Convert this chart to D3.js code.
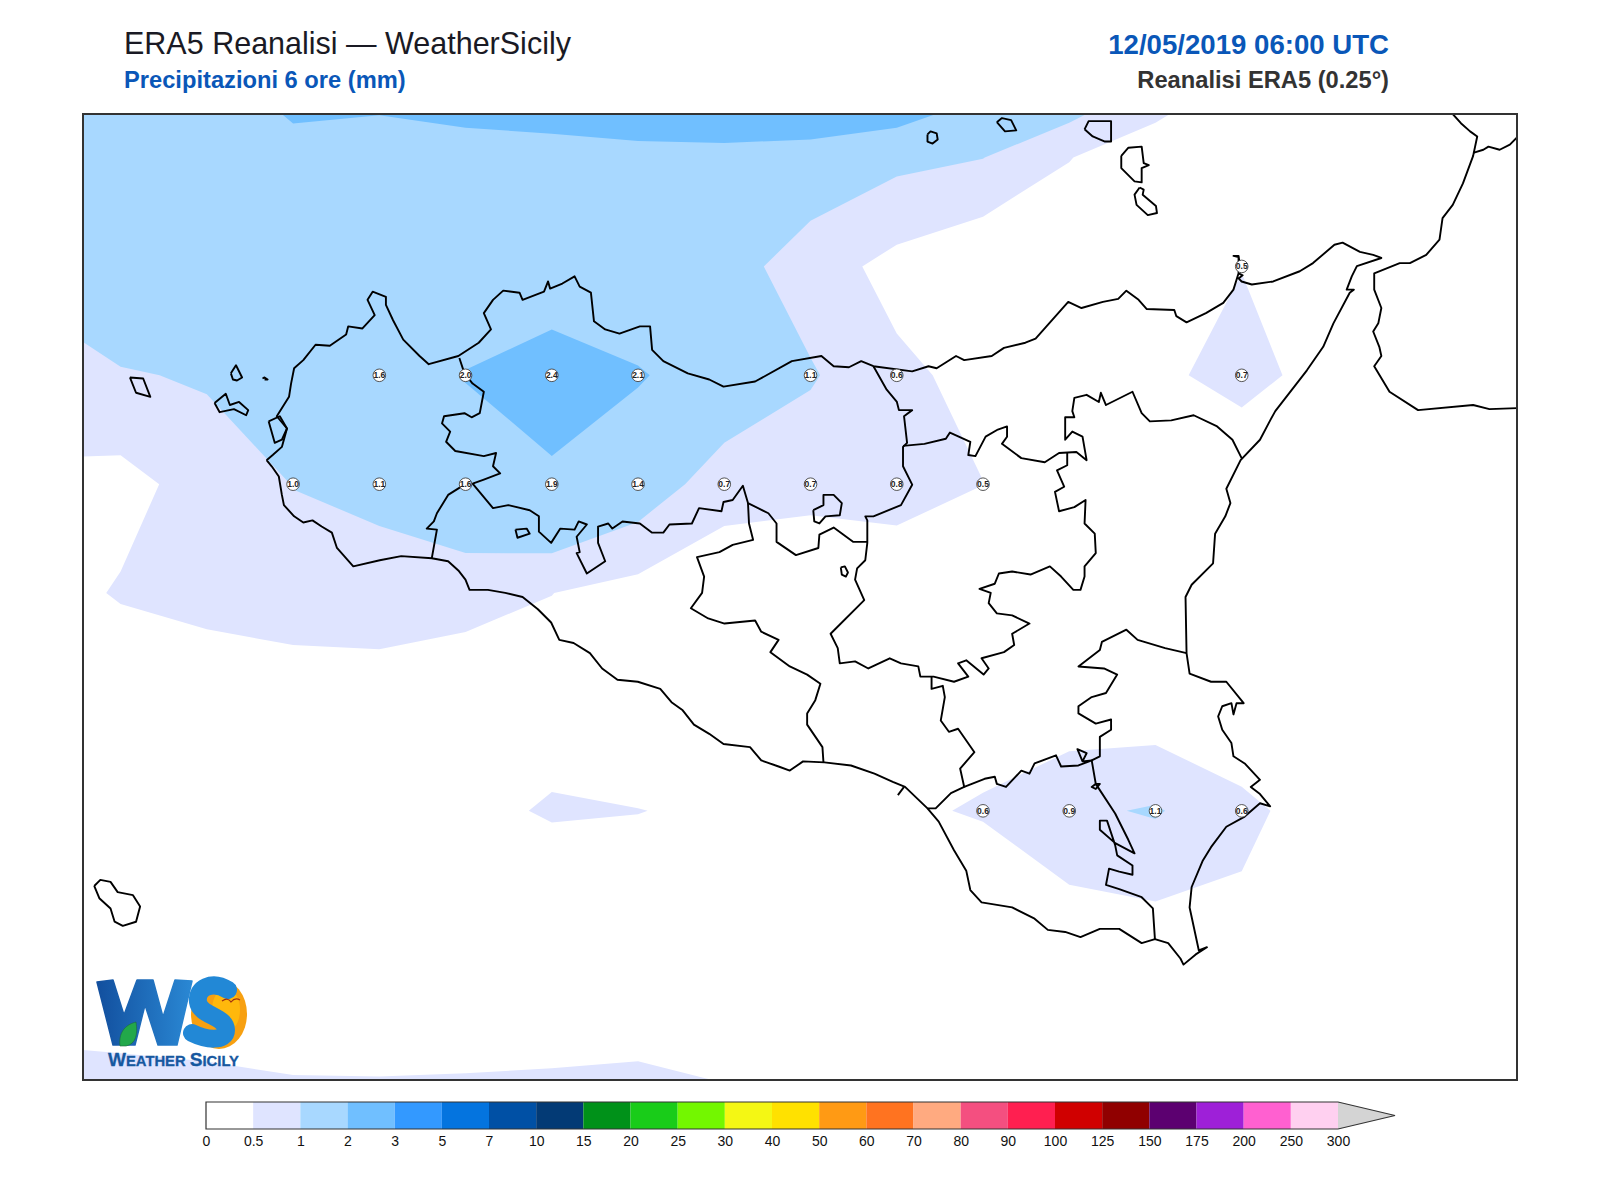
<!DOCTYPE html>
<html><head><meta charset="utf-8">
<script src="https://d3js.org/d3.v7.min.js"></script>
<style>html,body{margin:0;padding:0;background:#fff}svg{display:block}text{font-family:"Liberation Sans",Arial,sans-serif}</style>
</head><body><svg id="c" width="1600" height="1200"></svg>
<script>
// ---------- DATA ----------
const levelLabels = ["0","0.5","1","2","3","5","7","10","15","20","25","30","40","50","60","70","80","90","100","125","150","175","200","250","300"];
const levelColors = ["#ffffff","#dfe4ff","#a8d8ff","#70bfff","#3399ff","#0474df","#0050a5","#033a75","#009119","#19cc19","#73f700","#f4f714","#ffe100","#ff9a14","#ff7320","#ffaa80","#f44f80","#ff1f50","#d00000","#900000","#5c0070","#9e20d8","#ff60d0","#ffd0f0"];
// 0.25 degree precipitation field, mm
const gridLons = [12,12.25,12.5,12.75,13,13.25,13.5,13.75,14,14.25,14.5,14.75,15,15.25,15.5,15.75,16,16.25,16.5];
const gridLats = [38.75,38.5,38.25,38,37.75,37.5,37.25,37,36.75,36.5,36.25];
const p3875 = [1.9,1.9,2.01,2.88,2.63,3.06,3.07,3.66,3.94,5.2,4.28,2.81,2.02,1.35,.6,.3,.1,.1,.1];
const p3850 = [1.5,1.5,1.5,1.6,1.6,1.6,1.7,1.7,1.7,1.36,1.14,1.01,.52,.1,.1,.05,.02,.02,.02];
const p3825 = [1.02,1.6,1.4,1.4,1.4,1.45,1.45,1.2,1.22,.74,.34,.07,.05,.1,.487,.1,.02,.01,.01];
const p3800 = [.97,.948,1.063,1.3,1.6,2.03,2.4,2.08,1.49,1.05,.6,.36,.15,.375,.7,.277,.03,0,0];
const p3775 = [.35,.338,.7,1.01,1.1,1.6,1.86,1.36,.7,.68,.8,.505,.1,.1,.022,.02,0,0,0];
const p3750 = [.3,.54,.64,.8,.84,.65,.505,.32,.18,.05,.01,.02,0,0,0,0,0,0,0];
const p3725 = [.1,.14,.22,.17,.18,.23,.31,.1,.05,.02,.05,.25,.17,.14,.15,.05,0,0,0];
const p3700 = [.1,.1,.1,.15,.25,.39,.54,.51,.42,.2,.41,.55,.9,1.05,.6,.3,.05,0,0];
const p3675 = [.1,.15,.15,.15,.15,.15,.17,.2,.15,.1,.05,.05,.31,.39,.42,.05,0,0,0];
const p3650 = [.4,.4,.4,.4,.4,.4,.4,.4,.4,.3,.1,.02,.02,.02,.02,.02,0,0,0];
const p3625 = [1.02,.844,.73,.635,.627,.644,.674,.733,.6,.48,.2,.05,.05,.05,.05,.05,0,0,0];
// land stations with printed values
const stationLon = [15.5,13,13.25,13.5,13.75,14.25,14.5,15.5,12.75,13,13.25,13.5,13.75,14,14.25,14.5,14.75,14.75,15,15.25,15.5];
const stationLat = [38.25,38,38,38,38,38,38,38,37.75,37.75,37.75,37.75,37.75,37.75,37.75,37.75,37.75,37,37,37,37];
const stationVal = ["0.5","1.6","2.0","2.4","2.1","1.1","0.6","0.7","1.0","1.1","1.6","1.9","1.4","0.7","0.7","0.8","0.5","0.6","0.9","1.1","0.6"];
// outlines, traced in map easting/northing units
const coastSouth = [[261,451],[266,457],[273,467],[276,485],[278,495],[288,506],[297,512],[306,510],[315,516],[325,522],[330,537],[346,555],[372,549],[393,545],[423,547],[439,550],[449,559],[456,568],[460,578],[478,578],[495,581],[512,585],[527,597],[540,610],[548,627],[562,630],[578,640],[590,655],[605,666],[625,668],[647,675],[658,688],[669,696],[680,710],[695,719],[709,729],[735,732],[746,745],[763,751],[774,755],[787,746],[808,747],[834,750],[857,758],[875,766],[887,771],[909,792],[920,805],[935,833],[947,853],[951,872],[962,884],[992,889],[1014,900],[1027,911],[1044,913],[1059,918],[1078,910],[1097,910],[1119,924],[1132,920],[1145,924],[1157,939],[1160,945],[1172,935],[1183,928],[1175,931],[1166,889],[1168,869],[1179,843],[1187,830],[1202,810],[1220,800],[1235,787],[1245,790],[1235,778],[1226,771],[1235,764],[1220,748],[1209,741],[1207,728],[1198,715],[1194,702],[1198,692],[1207,689],[1209,700],[1212,689],[1219,689],[1202,668],[1187,668],[1166,660],[1163,640],[1162,585],[1168,573],[1189,552],[1191,523],[1201,506],[1206,493],[1202,479],[1216,451],[1235,431],[1245,412],[1250,403],[1281,363],[1297,340],[1307,317],[1323,287],[1327,284],[1320,284],[1325,271],[1330,261],[1354,253],[1346,250],[1333,247],[1316,238],[1308,240],[1287,258],[1274,266],[1248,276],[1227,279],[1217,276],[1214,273],[1218,270],[1214,268],[1215,258],[1214,251],[1209,251],[1214,252],[1214,268],[1209,284],[1199,297],[1182,307],[1163,316],[1153,310],[1151,304],[1124,303],[1116,294],[1104,285],[1096,293],[1081,296],[1060,302],[1047,296],[1015,332],[1005,336],[984,341],[972,349],[945,353],[937,349],[918,361],[910,359],[894,364],[856,359],[844,354],[832,360],[817,359],[805,349],[776,354],[740,374],[709,379],[695,372],[674,366],[650,354],[639,343],[637,320],[627,320],[607,327],[593,323],[582,315],[579,287],[568,281],[563,271],[551,278],[539,283],[537,276],[533,286],[512,294],[509,287],[493,285],[483,294],[474,307],[481,323],[469,336],[449,349],[420,357],[411,349],[395,333],[385,314],[378,299],[378,291],[365,286],[360,294],[367,309],[355,322],[341,320],[339,328],[323,339],[309,338],[297,353],[288,361],[285,376],[283,389],[271,408],[281,420],[276,438],[267,446],[261,451]];
const lagoon = [[263,413],[274,408],[281,420],[276,431],[269,434],[263,413]];
const borderTpPa = [[450,351],[455,366],[463,376],[474,384],[470,405],[462,409],[455,405],[435,408],[433,415],[441,423],[437,433],[446,442],[474,447],[486,444],[483,457],[490,464],[474,470],[463,474],[455,475],[439,485],[428,503],[425,511],[418,518],[428,519],[423,547]];
const borderPaAg = [[463,474],[483,498],[498,495],[519,500],[528,506],[528,521],[540,532],[549,518],[563,519],[567,511],[575,514],[565,526],[568,541],[565,542],[575,562],[593,550],[586,532],[586,516],[596,513],[600,518],[610,511],[627,513],[639,522],[650,522],[656,514],[678,513],[685,498],[707,501],[709,492],[718,490],[728,476],[733,493],[753,503],[761,513],[761,531],[780,544],[802,537],[803,524],[817,517],[836,531],[850,531]];
const borderAgCl = [[733,493],[734,513],[738,529],[718,534],[705,541],[683,546],[690,565],[688,581],[677,596],[694,606],[710,611],[740,608],[746,619],[763,627],[755,639],[774,653],[791,661],[804,670],[799,686],[791,699],[791,710],[806,732],[807,747]];
const borderPaMe = [[856,359],[869,382],[879,394],[881,402],[894,402],[886,408],[889,434],[885,438],[885,457],[894,475],[883,495],[856,506],[848,506],[850,510],[850,532],[848,549],[840,557],[838,568],[847,588],[814,621],[821,635],[823,650],[838,648],[851,655],[872,645],[883,650],[900,653],[902,663],[915,663],[935,668],[949,663],[939,650],[947,647],[964,661],[969,655],[962,645],[984,639],[994,632],[992,621],[1009,611],[992,603],[977,601],[969,591],[971,581],[960,577],[975,572],[979,562],[992,560],[1010,563],[1029,555],[1040,565],[1052,578],[1059,578],[1063,565],[1063,555],[1074,542],[1073,523],[1063,513],[1064,490],[1053,497],[1038,501],[1034,482],[1043,477],[1036,461],[1046,456],[1046,444]];
const borderMeCt = [[885,437],[906,435],[927,430],[931,424],[951,433],[949,446],[956,447],[966,428],[978,421],[987,418],[987,428],[982,435],[1001,449],[1024,453],[1038,444],[1055,443],[1065,451],[1061,428],[1051,423],[1044,431],[1044,409],[1053,409],[1051,403],[1053,390],[1065,387],[1077,394],[1079,385],[1084,397],[1110,384],[1119,405],[1127,413],[1148,412],[1170,407],[1193,418],[1208,431],[1217,449]];
const borderClRg = [[913,663],[913,675],[924,672],[926,683],[922,706],[930,717],[939,714],[955,737],[941,753],[945,771],[932,777],[917,792],[909,792]];
const borderRgCt = [[945,771],[965,763],[975,761],[977,768],[986,771],[1001,755],[1009,758],[1014,748],[1035,740],[1040,751],[1057,750],[1070,745],[1061,746],[1056,734],[1065,738],[1061,746]];
const borderCtEast = [[1070,745],[1078,741],[1078,722],[1089,715],[1089,705],[1074,709],[1057,699],[1057,692],[1070,683],[1084,679],[1095,661],[1082,655],[1057,653],[1078,637],[1080,629],[1104,617],[1115,627],[1142,635],[1163,640]];
const borderSrRg = [[1070,745],[1074,768],[1070,771],[1074,773],[1078,768],[1074,768],[1093,797],[1106,823],[1112,836],[1093,826],[1078,813],[1078,804],[1085,804],[1093,828],[1095,838],[1110,848],[1110,857],[1097,854],[1087,851],[1084,867],[1097,871],[1119,879],[1130,890],[1132,920]];
const riverMark = [[880,779],[886,771]];
const lakeOutline = [[824,556],[828,555],[831,561],[829,565],[825,563],[824,556]];
const innerLoop = [[797,500],[807,495],[807,485],[817,485],[825,493],[823,505],[809,506],[803,513],[798,511],[797,500]];
const islands = [
 [[909,132],[912,129],[918,131],[919,137],[914,141],[909,139],[909,132]],
 [[977,120],[982,116],[991,118],[996,128],[985,129],[977,120]],
 [[1063,127],[1067,119],[1089,119],[1089,139],[1083,139],[1071,134],[1063,127]],
 [[1099,153],[1106,145],[1119,144],[1121,160],[1126,162],[1119,165],[1119,179],[1112,178],[1099,165],[1099,153]],
 [[1117,184],[1121,186],[1120,191],[1133,202],[1134,209],[1125,211],[1114,201],[1112,191],[1117,184]],
 [[127,370],[140,371],[147,389],[133,385],[127,370]],
 [[226,366],[231,358],[237,370],[232,373],[228,372],[226,366]],
 [[210,395],[221,386],[225,397],[234,394],[243,402],[241,407],[229,401],[215,404],[210,395]],
 [[257,371],[259,370],[262,372],[259,372]],
 [[505,519],[516,518],[519,523],[507,527],[505,519]],
 [[92,868],[98,862],[108,864],[115,874],[130,877],[137,888],[133,903],[120,907],[112,903],[108,890],[97,880],[92,868]]
];
const calabria = [[1424,112],[1432,121],[1441,129],[1448,134],[1444,153],[1434,180],[1424,201],[1414,214],[1411,235],[1398,250],[1382,258],[1372,258],[1347,268],[1347,284],[1354,302],[1351,317],[1346,325],[1352,340],[1354,349],[1347,359],[1362,384],[1390,402],[1444,397],[1460,401],[1487,400]];
const calabriaNorth = [[1444,150],[1454,147],[1459,144],[1470,147],[1480,142],[1487,135]];
const outlines = [coastSouth,lagoon,borderTpPa,borderPaAg,borderAgCl,borderPaMe,borderMeCt,borderClRg,borderRgCt,borderCtEast,borderSrRg,riverMark,lakeOutline,innerLoop,...islands,calabria,calabriaNorth];

// ---------- LAYOUT ----------
const plot={l:83,r:1517,t:114,b:1080};
const svg=d3.select("#c");
const lonScale=d3.scaleLinear().domain([12.141,16.298]).range([plot.l,plot.r]);
const latScale=d3.scaleLinear().domain([38.60,36.382]).range([plot.t,plot.b]);
const mapX=d3.scaleLinear().domain([81,1487]).range([plot.l,plot.r]);
const mapY=d3.scaleLinear().domain([112,1058]).range([plot.t,plot.b]);
const defs=svg.append("defs");
defs.append("clipPath").attr("id","plotclip").append("rect").attr("x",plot.l).attr("y",plot.t).attr("width",plot.r-plot.l).attr("height",plot.b-plot.t);

// ---------- FIELD ----------
const rows=[p3875,p3850,p3825,p3800,p3775,p3750,p3725,p3700,p3675,p3650,p3625];
const nx=gridLons.length, ny=gridLats.length;
const flat=rows.flat();
const thresholds=levelLabels.slice(1,-1).map(Number);
const contours=d3.contours().size([nx,ny]).smooth(true).thresholds(thresholds)(flat);
const colIdx=d3.scaleLinear().domain([0,nx-1]).range([gridLons[0],gridLons[nx-1]]);
const rowIdx=d3.scaleLinear().domain([0,ny-1]).range([gridLats[0],gridLats[ny-1]]);
const gridPath=d3.geoPath(d3.geoTransform({point(x,y){this.stream.point(lonScale(colIdx(x-.5)),latScale(rowIdx(y-.5)));}}));
const field=svg.append("g").attr("clip-path","url(#plotclip)");
field.selectAll("path").data(contours).join("path").attr("d",gridPath).attr("fill",(d,i)=>levelColors[i+1]).attr("stroke","none");

// ---------- OUTLINES ----------
const line=d3.line().x(p=>mapX(p[0])).y(p=>mapY(p[1]));
const lines=svg.append("g").attr("clip-path","url(#plotclip)");
lines.selectAll("path").data(outlines).join("path").attr("d",line).attr("fill","none").attr("stroke","#000").attr("stroke-width",1.9).attr("stroke-linejoin","round");

// ---------- STATIONS ----------
const st=svg.append("g").selectAll("g").data(stationVal).join("g").attr("transform",(d,i)=>`translate(${lonScale(stationLon[i])},${latScale(stationLat[i])})`);
st.append("circle").attr("r",6.3).attr("fill","#fff").attr("stroke","#444").attr("stroke-width",.9);
st.append("text").text(d=>d).attr("text-anchor","middle").attr("dy",3).attr("font-size",8.5).attr("font-weight","bold").attr("fill","#222");

// ---------- LOGO ----------
const logo=svg.append("g");
const gw=defs.append("linearGradient").attr("id","gw").attr("x1",0).attr("x2",1).attr("y1",0).attr("y2",0);
gw.append("stop").attr("offset",0).attr("stop-color","#124f9e");gw.append("stop").attr("offset",1).attr("stop-color","#2a88d4");
logo.append("ellipse").attr("cx",219).attr("cy",1014).attr("rx",28).attr("ry",35).attr("fill","#f7a011");
logo.append("ellipse").attr("cx",226).attr("cy",1010).attr("rx",14).attr("ry",22).attr("fill","#ffb80c");
logo.append("path").attr("d","M228 990 C212 980 196 988 198 1002 C200 1016 226 1016 226 1030 C226 1042 206 1040 192 1033").attr("fill","none").attr("stroke","#2288d6").attr("stroke-width",18).attr("stroke-linecap","round");
logo.append("path").attr("d","M222 1001 Q228 997 231 1002 Q235 997 240 1000").attr("fill","none").attr("stroke","#a03010").attr("stroke-width",1.2);
logo.append("path").attr("d","M97 982 L113 980 L124 1015 L137 980 L153 980 L163 1017 L175 980 L192 981 L177 1045 L158 1045 L145 1005 L135 1045 L113 1045 Z").attr("fill","url(#gw)").attr("stroke","url(#gw)").attr("stroke-width",1.5).attr("stroke-linejoin","round");
logo.append("path").attr("d","M120 1046 C118 1030 128 1024 136 1022 C138 1034 136 1044 126 1046 Z").attr("fill","#22a84a").attr("stroke","#1d6a3a").attr("stroke-width",.6);
const lt=logo.append("text").attr("x",108).attr("y",1066).attr("fill","#17589f").attr("font-weight","bold").attr("stroke","#17589f").attr("stroke-width",.3);
[["W",19],["EATHER ",14.8],["S",19],["ICILY",14.8]].forEach(a=>lt.append("tspan").attr("font-size",a[1]).text(a[0]));

// ---------- FRAME ----------
svg.append("rect").attr("x",plot.l).attr("y",plot.t).attr("width",plot.r-plot.l).attr("height",plot.b-plot.t).attr("fill","none").attr("stroke","#333").attr("stroke-width",2);

// ---------- TITLES ----------
const T=(x,y,t,s,w,c,a)=>svg.append("text").attr("x",x).attr("y",y).attr("font-size",s).attr("font-weight",w).attr("fill",c).attr("text-anchor",a||"start").text(t);
T(124,54,"ERA5 Reanalisi — WeatherSicily",30.5,"normal","#1a1a24");
T(124,88,"Precipitazioni 6 ore (mm)",23.7,"bold","#0a57b8");
T(1389,54,"12/05/2019 06:00 UTC",27.6,"bold","#0a57b8","end");
T(1389,88,"Reanalisi ERA5 (0.25°)",23.7,"bold","#333","end");

// ---------- COLORBAR ----------
const cb={y:1102,h:27,l:206,r:1338,tip:1395};
const cbX=d3.scalePoint().domain(levelLabels).range([cb.l,cb.r]);
const cbar=svg.append("g");
cbar.selectAll("rect").data(levelColors).join("rect").attr("x",(d,i)=>cbX(levelLabels[i])).attr("y",cb.y).attr("width",(d,i)=>cbX(levelLabels[i+1])-cbX(levelLabels[i])).attr("height",cb.h).attr("fill",d=>d);
cbar.append("path").attr("d",`M${cb.r} ${cb.y}L${cb.tip} ${cb.y+cb.h/2}L${cb.r} ${cb.y+cb.h}Z`).attr("fill","#d4d4d4");
cbar.append("path").attr("d",`M${cb.r} ${cb.y}H${cb.l}V${cb.y+cb.h}H${cb.r}L${cb.tip} ${cb.y+cb.h/2}Z`).attr("fill","none").attr("stroke","#333").attr("stroke-width",1.2);
const ax=svg.append("g").attr("transform",`translate(0,${cb.y+cb.h})`).call(d3.axisBottom(cbX).tickSize(0).tickPadding(7));
ax.select(".domain").remove();
ax.selectAll("text").attr("font-size",14).attr("fill","#111").style("font-family",'"Liberation Sans",Arial,sans-serif');
</script></body></html>
